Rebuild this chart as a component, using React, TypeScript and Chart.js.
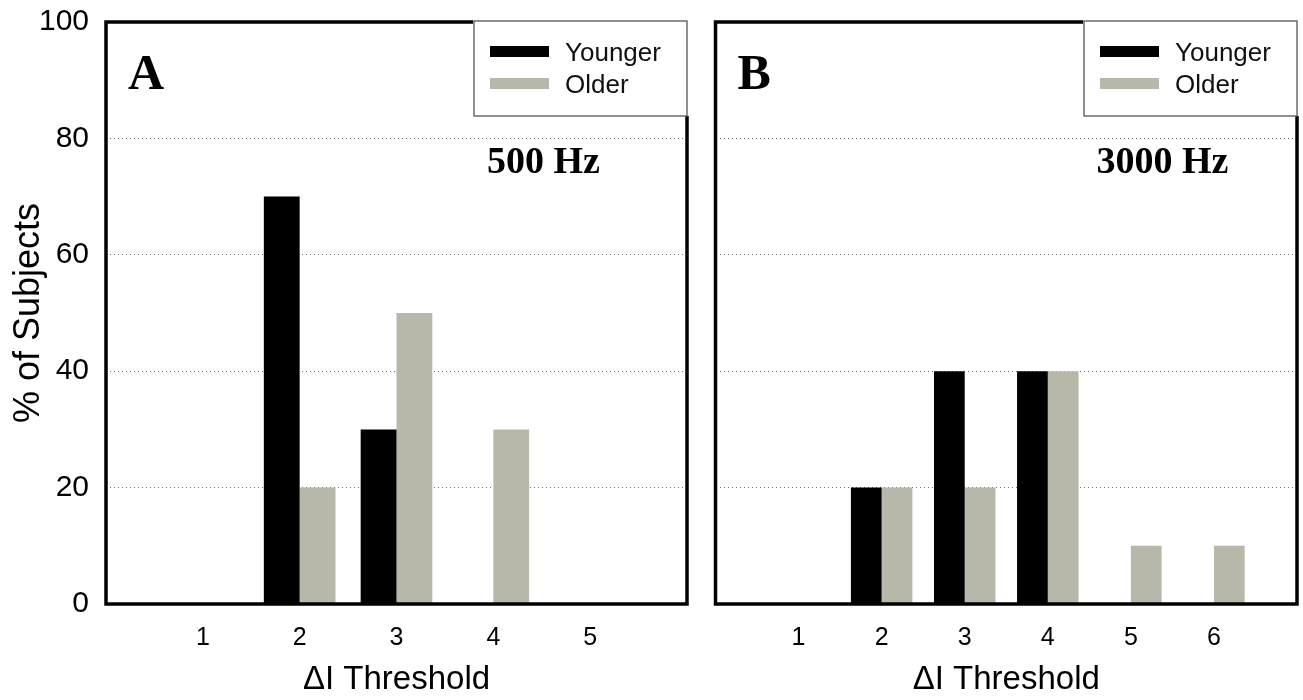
import React, { useEffect, useRef } from 'react';
import { Chart, registerables } from 'chart.js';

Chart.register(...registerables);

// ---------- data ----------
const categoriesA = ['1', '2', '3', '4', '5'];
const youngerA = [0, 70, 30, 0, 0];
const olderA = [0, 20, 50, 30, 0];

const categoriesB = ['1', '2', '3', '4', '5', '6'];
const youngerB = [0, 20, 40, 40, 0, 0];
const olderB = [0, 20, 20, 40, 10, 10];

const yTickValues = [0, 20, 40, 60, 80, 100];
const seriesNames = ['Younger', 'Older'];
const seriesColors = ['#000000', '#b7b7aa'];
const xTitle = '\u0394I Threshold';
const yTitle = '% of Subjects';
const panelLetters = ['A', 'B'];
const panelFreqs = ['500 Hz', '3000 Hz'];

const SANS = 'Liberation Sans';
const SERIF = 'Liberation Serif';

Chart.defaults.font.family = SANS;
Chart.defaults.color = '#000';

function panelPlugin(letter: string, freq: string) {
  return {
    id: 'panelDecor',
    afterDraw(chart: any) {
      const { ctx, chartArea: a } = chart;
      ctx.save();
      // frame
      ctx.strokeStyle = '#000';
      ctx.lineWidth = 3.5;
      ctx.setLineDash([]);
      ctx.strokeRect(a.left, a.top, a.right - a.left, a.bottom - a.top);
      // panel letter + frequency
      ctx.fillStyle = '#000';
      ctx.textAlign = 'left';
      ctx.textBaseline = 'alphabetic';
      ctx.font = `bold 50px "${SERIF}"`;
      ctx.fillText(letter, a.left + 22, a.top + 67);
      ctx.font = `bold 38px "${SERIF}"`;
      ctx.fillText(freq, a.left + 381, a.top + 151);
      // legend box
      const lw = 213;
      const lh = 95;
      const lx = a.right - lw;
      const ly = a.top - 1;
      ctx.fillStyle = '#fff';
      ctx.fillRect(lx - 1, ly - 2, lw + 4, lh + 2);
      ctx.strokeStyle = '#555';
      ctx.lineWidth = 1.3;
      ctx.strokeRect(lx, ly, lw, lh);
      const ds = chart.data.datasets;
      const swY = [24, 56];
      const txY = [39, 71];
      ds.forEach((d: any, i: number) => {
        ctx.fillStyle = d.backgroundColor;
        ctx.fillRect(lx + 16, a.top + swY[i], 59, 11);
        ctx.fillStyle = '#111';
        ctx.font = `26px "${SANS}"`;
        ctx.fillText(d.label, lx + 91, a.top + txY[i]);
      });
      ctx.restore();
    },
  };
}

function makeConfig(
  cats: string[],
  younger: number[],
  older: number[],
  letter: string,
  freq: string,
  showY: boolean,
  yWidth: number,
  rightPad: number
): any {
  const labels = ['', ...cats, ''];
  const pad = (arr: number[]) => [null, ...arr, null];
  return {
    type: 'bar',
    data: {
      labels,
      datasets: [
        { label: seriesNames[0], data: pad(younger), backgroundColor: seriesColors[0], borderWidth: 0 },
        { label: seriesNames[1], data: pad(older), backgroundColor: seriesColors[1], borderWidth: 0 },
      ],
    },
    options: {
      responsive: false,
      animation: false,
      devicePixelRatio: 1,
      layout: { padding: { left: 0, top: 22, right: rightPad, bottom: 0 } },
      datasets: { bar: { categoryPercentage: 0.74, barPercentage: 1.0 } },
      plugins: { legend: { display: false }, tooltip: { enabled: false }, title: { display: false } },
      scales: {
        x: {
          offset: false,
          grid: { display: false, drawTicks: false },
          border: { display: false },
          ticks: { font: { size: 25, family: SANS }, color: '#000', padding: 19, autoSkip: false, maxRotation: 0 },
          title: { display: true, text: xTitle, font: { size: 33, family: SANS }, color: '#000', padding: { top: 0, bottom: 0 } },
          afterFit: (s: any) => {
            s.height = 96;
            s.paddingLeft = 0;
            s.paddingRight = 0;
            s.paddingTop = 0;
            s.paddingBottom = 0;
          },
        },
        y: {
          min: 0,
          max: 100,
          afterBuildTicks: (s: any) => {
            s.ticks = yTickValues.map((v) => ({ value: v }));
          },
          grid: {
            drawTicks: false,
            lineWidth: 1,
            color: (c: any) => (c.tick && (c.tick.value === 0 || c.tick.value === 100) ? 'rgba(0,0,0,0)' : '#707070'),
          },
          border: { display: false, dash: [1, 3] },
          ticks: { display: showY, font: { size: 30, family: SANS }, color: '#000', padding: 17 },
          title: { display: showY, text: yTitle, font: { size: 36, family: SANS }, color: '#000', padding: { top: 7, bottom: 0 } },
          afterFit: (s: any) => {
            s.width = yWidth;
            s.paddingLeft = 0;
            s.paddingRight = 0;
            s.paddingTop = 0;
            s.paddingBottom = 0;
          },
        },
      },
    },
    plugins: [panelPlugin(letter, freq)],
  };
}

function ChartCanvas({ config, left, width }: { config: () => any; left: number; width: number }) {
  const ref = useRef<HTMLCanvasElement | null>(null);
  useEffect(() => {
    const chart = new Chart(ref.current as HTMLCanvasElement, config());
    return () => chart.destroy();
  }, []);
  return (
    <canvas
      ref={ref}
      width={width}
      height={700}
      style={{ position: 'absolute', left, top: 0, width, height: 700, display: 'block' }}
    />
  );
}

export default function App() {
  return (
    <div style={{ position: 'absolute', left: 0, top: 0, width: 1303, height: 700, background: '#fff', overflow: 'hidden' }}>
      <ChartCanvas
        left={0}
        width={700}
        config={() => makeConfig(categoriesA, youngerA, olderA, panelLetters[0], panelFreqs[0], true, 106, 13)}
      />
      <ChartCanvas
        left={700}
        width={603}
        config={() => makeConfig(categoriesB, youngerB, olderB, panelLetters[1], panelFreqs[1], false, 15.5, 6)}
      />
    </div>
  );
}
